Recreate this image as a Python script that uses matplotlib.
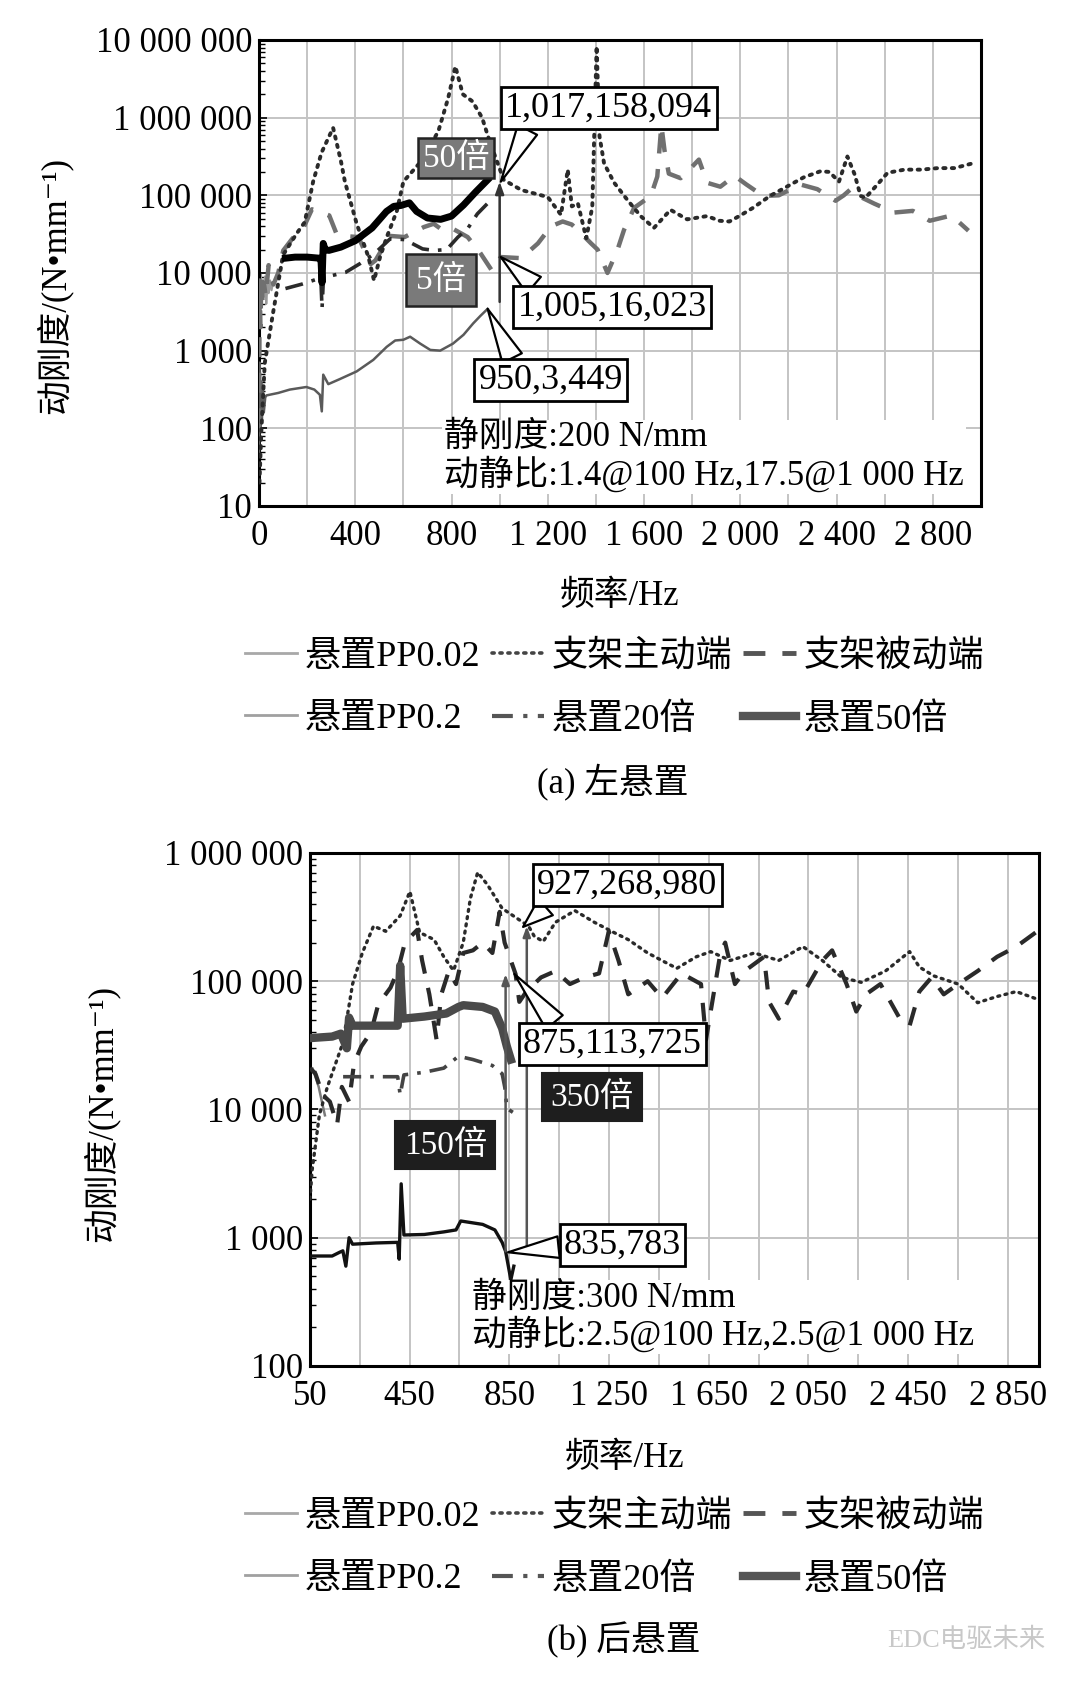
import matplotlib
matplotlib.use("Agg")
import matplotlib.pyplot as plt
from matplotlib.lines import Line2D
from matplotlib.ticker import LogLocator, NullFormatter

plt.rcParams['font.family'] = ['Liberation Serif', 'Noto Sans CJK SC', 'DejaVu Sans']
plt.rcParams['axes.unicode_minus'] = False

# ---------------- data: (a) left mount ----------------
a_pp002_hz = [0, 4, 8, 12, 16, 20, 25, 30, 35, 40, 46, 52, 58]
a_pp002_v = [300, 6000, 9500, 4200, 8000, 5000, 9000, 4000, 7000, 5500, 8000, 6000, 7500]

a_pp02_hz = [0, 3, 6, 9, 12, 16, 20, 26, 31, 80, 128, 197, 230, 253, 261, 267, 288, 336, 406,
             475, 531, 566, 600, 628, 670, 712, 753, 806, 850, 890, 920, 950]
a_pp02_v = [50, 700, 90, 400, 130, 350, 160, 250, 265, 285, 315, 340, 315, 270, 165, 490, 370, 430, 540,
            760, 1120, 1350, 1380, 1510, 1230, 1020, 1000, 1230, 1600, 2240, 2800, 3449]

a_act_hz = [2, 10, 24, 58, 100, 156, 190, 225, 260, 308, 340, 357, 406, 455, 478, 503, 531, 573, 600, 685,
            746, 786, 816, 847, 887, 927, 958, 1017, 1090, 1200, 1255, 1283, 1300, 1325, 1360, 1385, 1403,
            1415, 1434, 1476, 1531, 1586, 1641, 1710, 1779, 1862, 1913, 1955, 2000, 2053, 2123, 2193, 2263,
            2333, 2370, 2410, 2445, 2475, 2500, 2520, 2570, 2612, 2682, 2752, 2822, 2890, 2976]
a_act_v = [20, 95, 690, 3000, 17000, 32000, 45000, 150000, 355000, 740000, 280000, 150000, 43000, 16000,
           8000, 16000, 29000, 63000, 150000, 300000, 680000, 1780000, 4570000, 2000000, 1620000, 1000000,
           500000, 158094, 117000, 95000, 56000, 214000, 72000, 79000, 28000, 71000, 8300000, 575000, 257000,
           145000, 87000, 54000, 38000, 65000, 49000, 54000, 47000, 46000, 55000, 69000, 98000, 129000, 170000,
           204000, 200000, 150000, 316000, 186000, 98000, 93000, 138000, 195000, 214000, 214000, 224000,
           224000, 263000]

a_pas_hz = [0, 3, 6, 10, 15, 20, 28, 40, 60, 80, 101, 140, 181, 220, 242, 292, 322, 343, 413, 464, 484,
            544, 605, 685, 726, 766, 806, 867, 917, 968, 1005, 1090, 1159, 1214, 1262, 1300, 1340, 1380,
            1407, 1448, 1490, 1517, 1559, 1628, 1655, 1672, 1685, 1703, 1752, 1800, 1828, 1862, 1917, 1976,
            2025, 2095, 2160, 2249, 2320, 2396, 2430, 2459, 2500, 2557, 2640, 2717, 2787, 2878, 2948]
a_pas_v = [100, 8000, 2000, 9000, 4000, 7500, 5000, 12600, 7100, 10000, 19500, 28000, 36000, 66000, 63000,
           55000, 32000, 30000, 29000, 13000, 14500, 30000, 29000, 39000, 43000, 35000, 37000, 29000, 18600,
           10700, 16023, 15500, 24000, 40000, 46000, 42000, 32000, 24000, 20000, 10000, 20000, 36000, 69000,
           98000, 174000, 800000, 380000, 190000, 166000, 234000, 288000, 145000, 129000, 178000, 138000,
           98000, 100000, 138000, 120000, 85000, 100000, 120000, 95000, 78000, 60000, 63000, 47000, 55000,
           35000]

a_x20_hz = [110, 180, 250, 258, 262, 268, 280, 360, 420, 480, 545, 605, 680, 730, 780, 826, 867, 907, 948]
a_x20_v = [6300, 7200, 8500, 7100, 3500, 8900, 8900, 10200, 13200, 17800, 27500, 26900, 20400, 19500,
           20000, 28800, 37200, 57500, 77600]

a_x50_hz = [110, 150, 200, 250, 258, 262, 267, 275, 290, 340, 400, 470, 530, 560, 590, 625, 655, 700, 755,
            800, 850, 900, 950]
a_x50_v = [15500, 16000, 16000, 15500, 14000, 7500, 24000, 20000, 19500, 21500, 26000, 38000, 62000, 72000,
           74000, 80000, 62000, 51000, 49000, 54000, 75000, 110000, 158000]

# ---------------- data: (b) rear mount ----------------
b_pp002_hz = [50, 60, 72, 85, 100, 110]
b_pp002_v = [20000, 21000, 18000, 15000, 11000, 9000]

b_pp02_hz = [50, 139, 169, 182, 194, 207, 221, 315, 402, 408, 416, 427, 509, 587, 636, 655, 743, 792, 821,
             835, 856, 868]
b_pp02_v = [720, 720, 770, 790, 600, 1000, 890, 910, 920, 680, 2630, 1050, 1060, 1110, 1150, 1350, 1270,
            1150, 920, 783, 470, 600]

b_act_hz = [50, 59, 88, 120, 182, 221, 260, 305, 354, 412, 451, 490, 548, 587, 626, 665, 694, 723, 762, 821,
            927, 950, 986, 1035, 1113, 1191, 1269, 1327, 1405, 1483, 1522, 1600, 1658, 1736, 1833, 1931,
            2028, 2106, 2184, 2262, 2359, 2456, 2495, 2553, 2651, 2729, 2807, 2884, 2972]
b_act_v = [2000, 3400, 9100, 15000, 33000, 95000, 166000, 269000, 245000, 324000, 501000, 240000, 211000,
           155000, 121000, 200000, 445000, 705000, 566000, 370000, 268980, 224000, 204000, 288000, 355000,
           288000, 240000, 211000, 166000, 138000, 126000, 155000, 170000, 145000, 166000, 145000, 186000,
           145000, 107000, 98000, 120000, 170000, 129000, 110000, 95000, 68000, 76000, 83000, 72000]

b_pas_hz = [50, 72, 101, 130, 159, 178, 207, 227, 256, 295, 324, 373, 402, 431, 480, 500, 529, 558, 577,
            607, 636, 665, 704, 743, 782, 811, 831, 875, 890, 918, 977, 1035, 1093, 1152, 1210, 1249, 1288,
            1327, 1405, 1463, 1541, 1619, 1639, 1697, 1716, 1755, 1794, 1872, 1892, 1931, 1989, 2028, 2106,
            2145, 2203, 2242, 2281, 2339, 2417, 2456, 2495, 2544, 2593, 2651, 2729, 2807, 2884, 2962]
b_pas_v = [21000, 19000, 13000, 11500, 7600, 15000, 11500, 23000, 31000, 40000, 66000, 89000, 120000,
           200000, 251000, 145000, 79000, 35000, 79000, 120000, 95000, 166000, 174000, 200000, 166000,
           347000, 200000, 113725, 69000, 83000, 107000, 120000, 95000, 107000, 115000, 245000, 145000,
           79000, 100000, 74000, 115000, 95000, 35000, 166000, 200000, 95000, 120000, 155000, 69000, 51000,
           83000, 79000, 145000, 174000, 95000, 58000, 79000, 95000, 51000, 45000, 83000, 107000, 79000,
           95000, 120000, 155000, 186000, 240000]

b_x20_hz = [183, 402, 412, 427, 509, 587, 646, 704, 782, 821, 832, 840, 864]
b_x20_v = [18000, 18000, 13000, 18600, 19500, 21000, 26000, 24500, 22000, 19000, 14800, 10200, 9500]

b_x50_hz = [50, 139, 174, 198, 207, 221, 315, 402, 412, 422, 509, 597, 646, 665, 743, 792, 821, 840, 856]
b_x50_v = [36000, 37000, 39000, 30000, 52000, 45000, 45000, 45000, 132000, 51000, 53000, 56000, 63000,
           65000, 63000, 58000, 43000, 31000, 24500]

# ---------------- ticks ----------------
a_xticks = [0, 400, 800, 1200, 1600, 2000, 2400, 2800]
a_xticklabels = ['0', '400', '800', '1 200', '1 600', '2 000', '2 400', '2 800']
a_xgrid = list(range(0, 3001, 200))
a_yticks = [10, 100, 1000, 10000, 100000, 1000000, 10000000]
a_yticklabels = ['10', '100', '1 000', '10 000', '100 000', '1 000 000', '10 000 000']

b_xticks = [50, 450, 850, 1250, 1650, 2050, 2450, 2850]
b_xticklabels = ['50', '450', '850', '1 250', '1 650', '2 050', '2 450', '2 850']
b_xgrid = list(range(50, 2980, 200))
b_yticks = [100, 1000, 10000, 100000, 1000000]
b_yticklabels = ['100', '1 000', '10 000', '100 000', '1 000 000']

labels = ['悬置PP0.02', '悬置PP0.2', '支架主动端', '悬置20倍', '支架被动端', '悬置50倍']

FS = 25
fig = plt.figure(figsize=(10.8, 16.87), dpi=100)
ax1 = fig.add_axes([0.2398, 0.7001, 0.6685, 0.2762])
ax2 = fig.add_axes([0.2870, 0.1903, 0.6750, 0.3041])

DOT = (0, (0.6, 1.6))
DASH = (0, (4.5, 3.5))
DASHDOT = (0, (5, 2.5, 1, 2.5))


def style_axes(ax, xlim, ylim, xt, xtl, xg, yt, ytl):
    ax.set_yscale('log')
    ax.set_xlim(*xlim)
    ax.set_ylim(*ylim)
    ax.set_xticks(xt)
    ax.set_xticklabels(xtl)
    ax.set_xticks(xg, minor=True)
    ax.set_yticks(yt)
    ax.set_yticklabels(ytl)
    ax.yaxis.set_minor_locator(LogLocator(base=10, subs=range(2, 10), numticks=20))
    ax.yaxis.set_minor_formatter(NullFormatter())
    ax.grid(True, which='major', axis='y', color='#c4c4c4', lw=1.4, zorder=0)
    ax.grid(True, which='both', axis='x', color='#c4c4c4', lw=1.4, zorder=0)
    ax.set_axisbelow(True)
    ax.tick_params(axis='x', which='both', length=0, labelsize=FS, pad=10)
    ax.tick_params(axis='y', which='major', direction='in', length=6, width=1.2, labelsize=FS, pad=5)
    ax.tick_params(axis='y', which='minor', direction='in', length=4, width=1.0)
    for s in ax.spines.values():
        s.set_linewidth(2.2)
        s.set_color('black')


style_axes(ax1, (0, 3000), (10, 1e7), a_xticks, a_xticklabels, a_xgrid, a_yticks, a_yticklabels)
style_axes(ax2, (50, 2975), (100, 1e6), b_xticks, b_xticklabels, b_xgrid, b_yticks, b_yticklabels)

# ---- (a) lines ----
ax1.plot(a_pp002_hz, a_pp002_v, color='#9a9a9a', lw=1.6, zorder=2)
ax1.plot(a_pp02_hz, a_pp02_v, color='#5a5a5a', lw=1.8, zorder=3)
ax1.plot(a_pas_hz, a_pas_v, color='#707070', lw=3.2, ls=DASH, zorder=3)
ax1.plot(a_act_hz, a_act_v, color='#2a2a2a', lw=2.8, ls=DOT, dash_capstyle='round', zorder=4)
ax1.plot(a_x20_hz, a_x20_v, color='#2a2a2a', lw=2.6, ls=DASHDOT, zorder=4)
ax1.plot(a_x50_hz, a_x50_v, color='#000000', lw=5.0, zorder=5)

# ---- (b) lines ----
ax2.plot(b_pp002_hz, b_pp002_v, color='#7a7a7a', lw=1.8, zorder=2)
ax2.plot(b_act_hz, b_act_v, color='#2a2a2a', lw=2.4, ls=DOT, dash_capstyle='round', zorder=3)
ax2.plot(b_pas_hz, b_pas_v, color='#2a2a2a', lw=3.0, ls=DASH, zorder=3)
ax2.plot(b_x20_hz, b_x20_v, color='#444444', lw=2.6, ls=DASHDOT, zorder=4)
ax2.plot(b_x50_hz, b_x50_v, color='#4a4a4a', lw=6.0, zorder=5)
ax2.plot(b_pp02_hz, b_pp02_v, color='#111111', lw=2.4, zorder=5)

# ---- annotations (a) ----
box_w = dict(boxstyle='square,pad=0.12', fc='white', ec='black', lw=2.0)
wedge = dict(arrowstyle='wedge,tail_width=0.6,shrink_factor=0.5', fc='white', ec='black', lw=1.6,
             shrinkA=0, shrinkB=0)

ax1.annotate('', xy=(1000, 150000), xytext=(1000, 4240),
             arrowprops=dict(arrowstyle='-|>,head_length=0.7,head_width=0.25', color='#333333', lw=1.8,
                             shrinkA=0, shrinkB=0), zorder=6)
ax1.annotate('1,017,158,094', xy=(1005, 150000), xytext=(1454, 1.33e6), ha='center', va='center',
             fontsize=26, bbox=box_w, arrowprops=dict(wedge, relpos=(0.12, 0.0)), zorder=8)
ax1.annotate('1,005,16,023', xy=(1005, 16023), xytext=(1467, 3650), ha='center', va='center',
             fontsize=26, bbox=box_w, arrowprops=dict(wedge, relpos=(0.12, 1.0)), zorder=8)
ax1.annotate('950,3,449', xy=(950, 3449), xytext=(1213, 419), ha='center', va='center',
             fontsize=26, bbox=box_w, arrowprops=dict(wedge, relpos=(0.25, 1.0)), zorder=8)
ax1.text(818, 3.03e5, '50倍', ha='center', va='center', fontsize=24, color='white',
         bbox=dict(boxstyle='square,pad=0.14', fc='#7a7a7a', ec='#222222', lw=1.8), zorder=9)
ax1.text(756, 8100, '5倍', ha='center', va='center', fontsize=24, color='white',
         bbox=dict(boxstyle='square,pad=0.3', fc='#7a7a7a', ec='#222222', lw=1.8), zorder=9)
ax1.text(769, 43, '静刚度:200 N/mm\n动静比:1.4@100 Hz,17.5@1 000 Hz', ha='left', va='center',
         fontsize=25, linespacing=1.05,
         bbox=dict(boxstyle='square,pad=0.05', fc='white', ec='none'), zorder=7)

# ---- annotations (b) ----
ax2.annotate('', xy=(835, 113725), xytext=(835, 783),
             arrowprops=dict(arrowstyle='-|>,head_length=0.6,head_width=0.22', color='#555555', lw=1.8,
                             shrinkA=0, shrinkB=0), zorder=6)
ax2.annotate('', xy=(920, 268980), xytext=(920, 850),
             arrowprops=dict(arrowstyle='-|>,head_length=0.6,head_width=0.22', color='#555555', lw=1.8,
                             shrinkA=0, shrinkB=0), zorder=6)
ax2.annotate('927,268,980', xy=(905, 265000), xytext=(1324, 5.6e5), ha='center', va='center',
             fontsize=26, bbox=box_w, arrowprops=dict(wedge, relpos=(0.08, 0.0)), zorder=8)
ax2.annotate('875,113,725', xy=(870, 113725), xytext=(1264, 32400), ha='center', va='center',
             fontsize=26, bbox=box_w, arrowprops=dict(wedge, relpos=(0.2, 1.0)), zorder=8)
ax2.annotate('835,783', xy=(845, 770), xytext=(1304, 878), ha='center', va='center',
             fontsize=26, bbox=box_w, arrowprops=dict(wedge, relpos=(0.0, 0.45)), zorder=8)
ax2.text(1183, 12500, '350倍', ha='center', va='center', fontsize=24, color='white',
         bbox=dict(boxstyle='square,pad=0.25', fc='#1e1e1e', ec='#1e1e1e', lw=1.5), zorder=9)
ax2.text(593, 5280, '150倍', ha='center', va='center', fontsize=24, color='white',
         bbox=dict(boxstyle='square,pad=0.25', fc='#1e1e1e', ec='#1e1e1e', lw=1.5), zorder=9)
ax2.text(701, 241, '静刚度:300 N/mm\n动静比:2.5@100 Hz,2.5@1 000 Hz', ha='left', va='center',
         fontsize=25, linespacing=1.05,
         bbox=dict(boxstyle='square,pad=0.05', fc='white', ec='none'), zorder=7)

# ---- axis labels ----
ylab = '动刚度/(N•mm⁻¹)'
for ax, xc, yc_x, yc_y, xl_y in [(ax1, 0.5, -0.259, 0.474, -0.158), (ax2, 0.431, -0.261, 0.493, -0.149)]:
    ax.set_xlabel('频率/Hz', fontsize=25)
    ax.xaxis.set_label_coords(xc, xl_y)
    ax.set_ylabel(ylab, fontsize=25)
    ax.yaxis.set_label_coords(yc_x, yc_y)

# ---- legends ----
def leg_handles():
    return [Line2D([], [], color='#a8a8a8', lw=2.0),
            Line2D([], [], color='#a0a0a0', lw=2.0),
            Line2D([], [], color='#444444', lw=2.6, ls=DOT, dash_capstyle='round'),
            Line2D([], [], color='#555555', lw=3.0, ls=DASHDOT),
            Line2D([], [], color='#555555', lw=3.5, ls=DASH),
            Line2D([], [], color='#555555', lw=6.0)]

for yc in (0.5920, 0.0822):
    fig.legend(leg_handles(), labels, ncol=3, loc='center', bbox_to_anchor=(0.5690, yc), frameon=False,
               fontsize=26, handlelength=1.45, handletextpad=0.22, columnspacing=0.3, labelspacing=0.8)

fig.text(0.5676, 0.5365, '(a) 左悬置', ha='center', va='center', fontsize=25)
fig.text(0.5778, 0.0279, '(b) 后悬置', ha='center', va='center', fontsize=25)
fig.text(0.895, 0.0279, 'EDC电驱未来', ha='center', va='center', fontsize=19, color='#c8c8c8')

fig.savefig('out.png', dpi=100, facecolor='white')
